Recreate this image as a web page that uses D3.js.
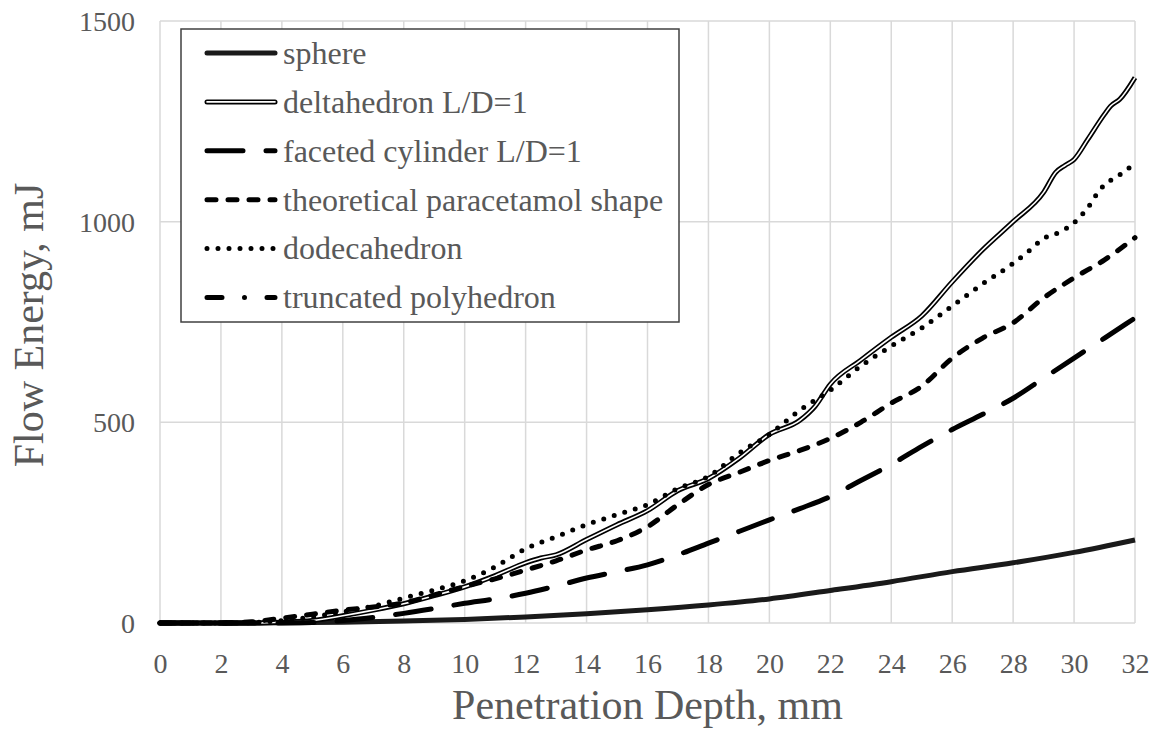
<!DOCTYPE html>
<html>
<head>
<meta charset="utf-8">
<script src="https://cdn.jsdelivr.net/npm/d3@7"></script>
<style>
  html, body { margin: 0; padding: 0; background: #fff; }
  svg { display: block; font-family: "Liberation Serif", "Times New Roman", serif; }
  svg text { font-family: "Liberation Serif", "Times New Roman", serif !important; fill: #595959; }
</style>
</head>
<body>
<svg id="chart" width="1160" height="736"></svg>
<script>
// ---------- data ----------
const xTicks = [0, 2, 4, 6, 8, 10, 12, 14, 16, 18, 20, 22, 24, 26, 28, 30, 32];
const yTicks = [0, 500, 1000, 1500];
const seriesNames = ["sphere", "deltahedron L/D=1", "faceted cylinder L/D=1",
  "theoretical paracetamol shape", "dodecahedron", "truncated polyhedron"];

const sphereX = [0, 2, 4, 5, 6, 8, 10, 12, 14, 16, 18, 20, 22, 24, 26, 28, 30, 32];
const sphereY = [0, 0, 0.5, 1, 2, 5, 9, 15, 23, 33, 45, 60, 81, 103, 128, 150, 176, 207];

const deltaX = [0, 2, 3, 4, 5, 6, 7, 8, 9, 10, 11, 12, 12.5, 13, 14, 15, 16, 17, 18, 19, 20, 21, 21.5, 22, 23, 24, 25, 26, 27, 28, 29, 29.4, 29.7, 30, 30.45, 31, 31.2, 31.5, 32];
const deltaY = [0, 0, 0, 2, 6, 18, 32, 48, 68, 90, 118, 150, 162, 170, 208, 245, 280, 330, 360, 410, 470, 505, 540, 595, 655, 712, 765, 850, 930, 1000, 1073, 1123, 1140, 1155, 1205, 1268, 1288, 1305, 1359];

const facetX = [0, 4, 5, 6, 7, 8, 9, 10, 11, 12, 13, 14, 15, 16, 17, 18, 19, 20, 21, 22, 23, 24, 25, 26, 27, 28, 29, 30, 31, 32];
const facetY = [0, 0, 1, 6, 14, 24, 36, 49, 60, 74, 92, 112, 128, 145, 170, 199, 228, 257, 285, 315, 355, 395, 440, 482, 520, 560, 610, 660, 710, 760];

const paraX = [0, 2, 3, 4, 5, 6, 7, 8, 9, 10, 11, 12, 13, 14, 15, 16, 17, 18, 19, 20, 21, 22, 23, 24, 25, 26, 27, 28, 29, 30, 31, 32];
const paraY = [0, 0, 3, 12, 22, 32, 40, 50, 70, 91, 110, 132, 155, 182, 205, 240, 295, 345, 375, 405, 430, 460, 500, 548, 590, 660, 710, 748, 810, 860, 905, 960];

const dodecX = [0, 2, 3, 4, 5, 6, 7, 8, 9, 10, 11, 12, 13, 14, 15, 16, 17, 18, 19, 20, 21, 22, 23, 24, 25, 26, 27, 28, 28.55, 29, 29.5, 30, 30.5, 30.85, 31.2, 31.75, 32];
const dodecY = [0, 0, 1, 6, 15, 28, 42, 62, 82, 105, 140, 185, 215, 245, 270, 295, 335, 365, 423, 470, 530, 580, 640, 690, 735, 790, 845, 896, 929, 958, 973, 997, 1040, 1080, 1103, 1130, 1148];

const truncX = [0, 2, 3];
const truncY = [0, 0, 0];

// ---------- layout ----------
const FONT = "Liberation Serif";
const svg = d3.select("#chart");
const L = 160, R = 1135, T = 21, B = 623;
const x = d3.scaleLinear().domain([0, 32]).range([L, R]);
const y = d3.scaleLinear().domain([0, 1500]).range([B, T]);

// gridlines
const grid = svg.append("g");
grid.selectAll("line.v").data(xTicks).join("line")
  .attr("x1", d => x(d)).attr("x2", d => x(d)).attr("y1", T).attr("y2", B)
  .attr("stroke", "#d9d9d9").attr("stroke-width", 1.5);
grid.selectAll("line.h").data(yTicks).join("line")
  .attr("y1", d => y(d)).attr("y2", d => y(d)).attr("x1", L).attr("x2", R)
  .attr("stroke", "#d9d9d9").attr("stroke-width", 1.5);

// axes (labels only)
const xAxis = d3.axisBottom(x).tickValues(xTicks).tickFormat(d3.format("d")).tickSize(0).tickPadding(0);
const gx = svg.append("g").attr("transform", `translate(0,${B})`).call(xAxis)
  .attr("font-family", FONT).attr("font-size", 28);
gx.select(".domain").remove();
gx.selectAll("text").attr("dy", 0).attr("y", 50).attr("fill", "#595959");

const yAxis = d3.axisLeft(y).tickValues(yTicks).tickFormat(d3.format("d")).tickSize(0).tickPadding(0);
const gy = svg.append("g").attr("transform", `translate(${L},0)`).call(yAxis)
  .attr("font-family", FONT).attr("font-size", 28);
gy.select(".domain").remove();
gy.selectAll("text").attr("x", -25).attr("dy", "0.34em").attr("fill", "#595959");

// titles
svg.append("text").attr("x", (L + R) / 2).attr("y", 719).attr("text-anchor", "middle")
  .attr("font-family", FONT).attr("font-size", 42).text("Penetration Depth, mm");
svg.append("text").attr("transform", `translate(43,${(T + B) / 2 + 3}) rotate(-90)`)
  .attr("text-anchor", "middle").attr("font-family", FONT).attr("font-size", 42).text("Flow Energy, mJ");

// ---------- series ----------
const line = d3.line().x(d => x(d[0])).y(d => y(d[1])).curve(d3.curveMonotoneX);
const zip = (a, b) => a.map((v, i) => [v, b[i]]);

const styles = [
  { name: seriesNames[0], data: zip(sphereX, sphereY), layers: [{ stroke: "#1a1a1a", w: 5, dash: null }] },
  { name: seriesNames[1], data: zip(deltaX, deltaY), layers: [{ stroke: "#000", w: 5, dash: null }, { stroke: "#fff", w: 1.6, dash: null }] },
  { name: seriesNames[2], data: zip(facetX, facetY), layers: [{ stroke: "#000", w: 5, dash: "36,23", cap: "round" }] },
  { name: seriesNames[3], data: zip(paraX, paraY), layers: [{ stroke: "#000", w: 5, dash: "9,12", cap: "round" }] },
  { name: seriesNames[4], data: zip(dodecX, dodecY), layers: [{ stroke: "#000", w: 5, dash: "0,11", cap: "round" }] },
  { name: seriesNames[5], data: zip(truncX, truncY), layers: [{ stroke: "#000", w: 5, dash: "15,22.5,0,22.5", cap: "round" }] }
];

const plot = svg.append("g");
styles.forEach(s => {
  s.layers.forEach(l => {
    plot.append("path").datum(s.data).attr("d", line)
      .attr("fill", "none").attr("stroke", l.stroke).attr("stroke-width", l.w)
      .attr("stroke-dasharray", l.dash).attr("stroke-linecap", l.cap || "butt")
      .attr("stroke-linejoin", "round");
  });
});

// ---------- legend ----------
const lg = svg.append("g");
lg.append("rect").attr("x", 181).attr("y", 29).attr("width", 498).attr("height", 293)
  .attr("fill", "#fff").attr("stroke", "#404040").attr("stroke-width", 1.5);
const rowY = i => 53 + i * 48.9;
styles.forEach((s, i) => {
  const yy = rowY(i);
  s.layers.forEach(l => {
    lg.append("line").attr("x1", 207).attr("x2", 275).attr("y1", yy).attr("y2", yy)
      .attr("stroke", l.stroke).attr("stroke-width", l.w)
      .attr("stroke-dasharray", l.dash).attr("stroke-linecap", l.cap || "round");
  });
  lg.append("text").attr("x", 283).attr("y", yy).attr("dy", "0.34em")
    .attr("font-family", FONT).attr("font-size", 32).text(s.name);
});
</script>
</body>
</html>
